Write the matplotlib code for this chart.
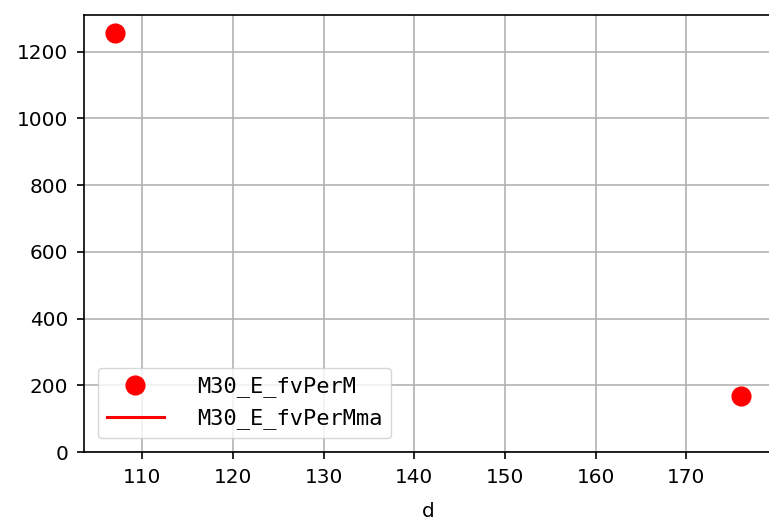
import matplotlib
matplotlib.use("Agg")
import matplotlib.pyplot as plt
import numpy as np

# data
d = [107, 176]
fv_per_m = [1255, 167]
fv_per_m_ma = [np.nan, np.nan]  # moving average is empty for two points

plt.rcParams["font.family"] = ["DejaVu Sans"]


def main():
    fig = plt.figure(figsize=(7.69, 5.23), dpi=100)
    # right edge of the axes falls just outside the image, as in the reference
    ax = fig.add_axes([84 / 769, 71 / 523, (772 - 84) / 769, (452 - 15) / 523])

    ax.plot(d, fv_per_m, "o", color="red", markersize=13.5, label="M30_E_fvPerM", zorder=3)
    ax.plot(d, fv_per_m_ma, "-", color="red", linewidth=2.2, label="M30_E_fvPerMma")

    ax.set_ylim(bottom=0)
    ax.set_xlabel("d", fontsize=14.4, labelpad=11)
    ax.set_xticks([110, 120, 130, 140, 150, 160, 170])
    ax.set_yticks([0, 200, 400, 600, 800, 1000, 1200])
    ax.tick_params(labelsize=14.4, length=5, width=1.2, pad=6.5)
    ax.grid(True, color="#b0b0b0", linewidth=1.15)
    ax.set_axisbelow(True)
    for spine in ax.spines.values():
        spine.set_linewidth(1.2)

    ax.legend(
        loc="lower left",
        prop={"family": "DejaVu Sans Mono", "size": 15.8},
        handlelength=2.6,
        handletextpad=1.5,
        borderaxespad=0.64,
        borderpad=0.4,
        labelspacing=0.5,
        framealpha=0.8,
        edgecolor="#cccccc",
    )

    fig.savefig("out.png", dpi=100)
    plt.close(fig)


if __name__ == "__main__":
    main()
